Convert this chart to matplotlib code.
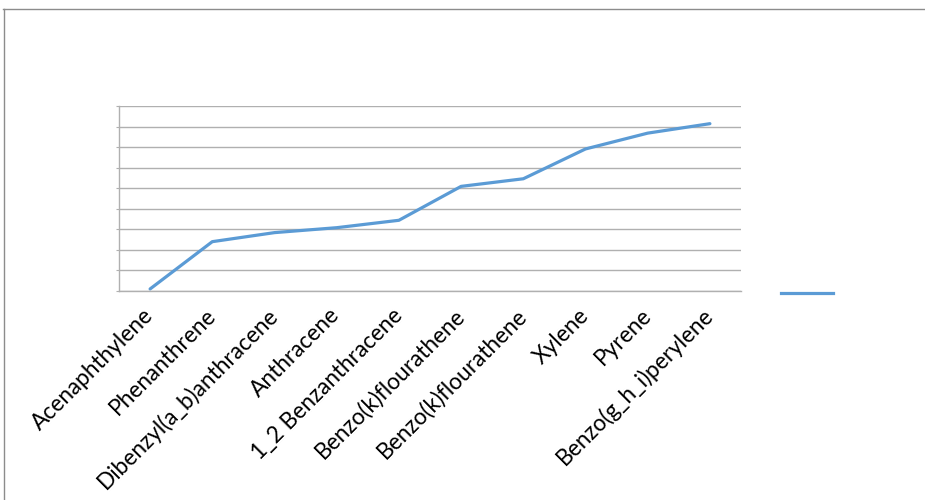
import matplotlib.pyplot as plt
from matplotlib.lines import Line2D

# ---------- data ----------
compounds = ["Acenaphthylene", "Phenanthrene", "Dibenzyl(a_b)anthracene", "Anthracene",
             "1_2 Benzanthracene", "Benzo(k)flourathene", "Benzo(k)flourathene",
             "Xylene", "Pyrene", "Benzo(g_h_i)perylene"]
values = [0.1, 2.4, 2.84, 3.08, 3.44, 5.09, 5.46, 6.91, 7.68, 8.14]

LINE_COL = "#5B9BD5"
GRID_COL = "#B0B0B0"

plt.rcParams["font.family"] = ["Lato", "DejaVu Sans"]

fig = plt.figure(figsize=(9.25, 5), dpi=100)
ax = fig.add_axes([119 / 925, 1 - 291 / 500, 622 / 925, 185 / 500])

x = list(range(len(compounds)))
line, = ax.plot(x, values, color=LINE_COL, lw=2.3, solid_capstyle="round")

ax.set_xlim(-0.5, len(compounds) - 0.5)
ax.set_ylim(0, 9)
ax.set_yticks(range(0, 10))
ax.set_yticklabels([])
ax.yaxis.grid(True, color=GRID_COL, lw=1.0)
ax.set_axisbelow(True)
ax.tick_params(axis="y", length=2, color=GRID_COL)
ax.tick_params(axis="x", length=0, pad=15)
ax.set_xticks(x)
ax.set_xticklabels(compounds, rotation=45, ha="right", va="center",
                   rotation_mode="anchor", fontsize=16.3, color="black")
for s in ["top", "right"]:
    ax.spines[s].set_visible(False)
for s in ["left", "bottom"]:
    ax.spines[s].set_color(GRID_COL)
    ax.spines[s].set_linewidth(1.0)

# legend: line only, no text
fig.legend([Line2D([], [], color=LINE_COL, lw=2.3)], [""], loc="center left",
           bbox_to_anchor=(768 / 925, 1 - 294 / 500), frameon=False,
           handlelength=3.8, fontsize=10)

# outer chart border (top and left edges visible)
fig.add_artist(Line2D([3 / 925, 1], [1 - 9 / 500, 1 - 9 / 500], color="#8C8C8C", lw=1.0,
                      transform=fig.transFigure))
fig.add_artist(Line2D([4 / 925, 4 / 925], [0, 1 - 9 / 500], color="#8C8C8C", lw=1.0,
                      transform=fig.transFigure))

fig.savefig("out.png", dpi=100)
